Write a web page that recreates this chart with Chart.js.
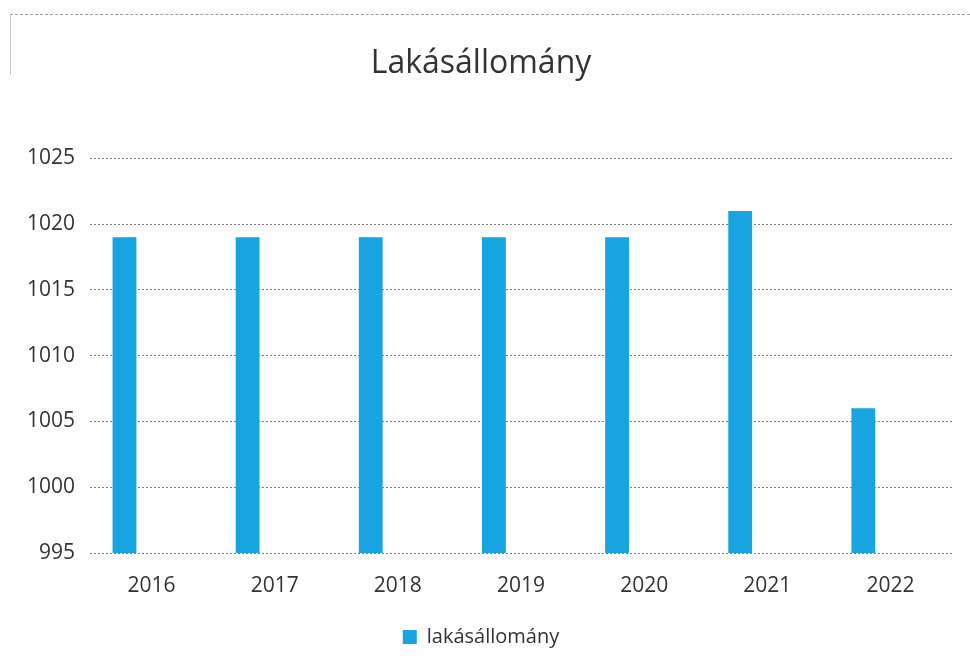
<!DOCTYPE html>
<html lang="hu">
<head>
    <meta charset="UTF-8">
    <script src="https://cdn.jsdelivr.net/npm/chart.js"></script>
    <title>Lakásállomány</title>
    <style>
        body { margin: 0; background: #fff; }
        .frame { position: relative; width: 970px; height: 672px; }
        .frame::before {
            content: ""; position: absolute; left: 10px; top: 14px; right: 0; height: 60px;
            border-top: 1px dashed #9a9a9a; border-left: 1px solid #c8c8c8;
        }
    </style>
</head>
<body>

<div class="frame">
    <canvas id="lakasChart" width="970" height="672"></canvas>
</div>

<script>
const years = ['2016', '2017', '2018', '2019', '2020', '2021', '2022'];
const lakasok = [1019, 1019, 1019, 1019, 1019, 1021, 1006];
const yTicks = [995, 1000, 1005, 1010, 1015, 1020, 1025];

const barColor = '#17A4E1';
const textColor = '#333333';
const font = "'Open Sans', sans-serif";

const ctx = document.getElementById('lakasChart').getContext('2d');
new Chart(ctx, {
    type: 'bar',
    data: {
        labels: years,
        datasets: [
            {
                label: 'lakásállomány',
                data: lakasok,
                backgroundColor: barColor,
                barPercentage: 0.44,
                categoryPercentage: 0.88
            },
            {
                // empty second series, keeps the bars left of the label like in the original
                label: '',
                data: years.map(() => null),
                backgroundColor: 'rgba(0,0,0,0)',
                barPercentage: 0.44,
                categoryPercentage: 0.88
            }
        ]
    },
    options: {
        responsive: false,
        animation: false,
        layout: { padding: { left: 10, right: 18, top: 0, bottom: 15 } },
        scales: {
            x: {
                grid: { display: false, drawTicks: false },
                border: { display: false },
                ticks: { color: textColor, font: { family: font, size: 21 }, padding: 20 },
                afterFit: s => { s.height = 64; }
            },
            y: {
                min: 995,
                max: 1025,
                afterBuildTicks: s => { s.ticks = yTicks.map(v => ({ value: v })); },
                grid: { color: '#7a7a7a', lineWidth: 1, drawTicks: false },
                border: { display: false, dash: [2, 2] },
                ticks: {
                    color: textColor,
                    font: { family: font, size: 21 },
                    padding: 15,
                    callback: v => String(v)
                },
                afterFit: s => { s.width = 80; }
            }
        },
        plugins: {
            title: {
                display: true,
                text: 'Lakásállomány',
                color: textColor,
                font: { family: font, size: 32, weight: 'normal' },
                padding: { top: 45, bottom: 75 }
            },
            legend: {
                position: 'bottom',
                labels: {
                    color: textColor,
                    font: { family: font, size: 20 },
                    boxWidth: 14,
                    boxHeight: 14,
                    padding: 10,
                    filter: item => item.text !== ''
                }
            },
            tooltip: { enabled: false }
        }
    }
});
</script>

</body>
</html>
